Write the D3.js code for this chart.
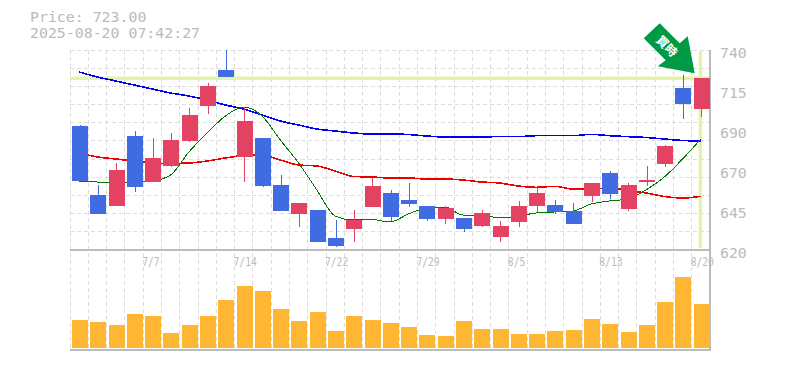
<!DOCTYPE html>
<html><head><meta charset="utf-8">
<script src="https://cdn.jsdelivr.net/npm/d3@7"></script>
<style>html,body{margin:0;padding:0;background:#fff}svg{display:block}
text{font-family:"DejaVu Sans Mono",monospace;fill:#bbb}</style></head><body><div id="c"></div>
<script>
const titleLines = ["Price: 723.00", "2025-08-20 07:42:27"];
const open  = [694.4,653,646.4,688.4,660.8,670.4,685.4,706.4,728,675.8,687.2,659,641.6,644,627.2,632.6,645.8,654.2,650,646.4,638.6,639.2,634.4,627.8,636.8,646.4,647,643.4,652.4,666.2,644.6,660.8,671.6,717.2,704.6];
const close = [661.4,641.6,668,657.8,675.2,686,701,718.4,723.8,697.4,658.4,643.4,648.2,624.8,622.4,638,658.4,639.8,647.6,638.6,645.2,632.6,642.2,634.4,646.4,654.2,642.8,635.6,660.2,653.6,659,662,682.4,707.6,723.2];
const high  = [695,659,672.4,691.4,687.2,690.2,705.2,720,740,705.8,687.2,665,648.2,644,638,644,663.2,656,660.2,646.4,646.4,639.2,644,637.4,649.4,657.8,650,648.2,660.2,667.4,660.2,670.4,683,725,723.2];
const low   = [661.4,641.6,646.4,655,660.8,669.8,684.8,701.6,723.8,660.8,657.8,643.4,633.8,624.8,621.8,624.8,645.8,637.4,645.8,637.4,635.6,630.8,633.8,624.8,633.8,642.8,641.6,635.6,648.8,650.6,643.4,658.4,669.8,698.6,699.8];
const volume = [28,26,23,34,32,15,23,32,48,62,57,39,27,36,17,32,28,25,21,13,12,27,19,19,14,14,17,18,29,24,16,23,46,71,44];
const maLong = [726.8,723.8,721.4,719,716.6,714.2,712.4,710,707,704.6,701,697.4,695,692.6,691.4,690.2,689.6,689.6,689.3,688.4,687.8,687.8,687.8,688.1,688,688.6,688.6,688.6,689.4,688.6,688,687.5,686.6,685.7,685.4];
const maMid  = [678.2,675.8,674.6,673.4,672.2,671.9,672.2,673.4,675.2,676.7,677,674,671,670.4,667.4,664.1,663.8,663.2,663.2,662.6,662.6,662,660.8,660.2,658.4,657.6,658.2,656.6,656.6,657.2,655.7,654.2,652.1,651.2,652.2];
const maShort= [661.4,660.8,660.8,660.8,661.4,665,678.8,690.2,700.4,705.8,700.4,686,672.2,656,640.4,638,638.3,636.8,641.6,645.2,645.8,641,641,639.2,640.4,642.2,642.8,643.4,647.6,649.4,650.6,656,663.8,674.6,686.6];
const xTickIndex = [4,9,14,19,24,29,34];
const xTickLabels = ["7/7","7/14","7/22","7/29","8/5","8/13","8/20"];
const yTickValues = [740,716,692,668,644,620];
const yTickLabels = ["740","715","690","670","645","620"];
const currentPrice = 723;
const signalLabel = "\u8cb7\u6642";

const W=785,H=370,L=70,R=710,T=50,B=250,VB=350;
const svg=d3.select("#c").append("svg").attr("width",W).attr("height",H);
const idx=d3.range(open.length);
const x=d3.scaleBand().domain(idx).range([L,R]).paddingInner(0);
const y=d3.scaleLinear().domain([620,740]).range([B,T]);
const v=d3.scaleLinear().domain([0,100]).range([348,248]);
const RED="#e34262",BLUE="#416be0",AXIS="#bbb",GRID="#ddd",HL="#e2f4a8";

// grid
const g=svg.append("g").attr("stroke",GRID).attr("stroke-dasharray","4,3").attr("shape-rendering","crispEdges");
g.selectAll(".v").data(idx).join("line").attr("x1",d=>x(d)).attr("x2",d=>x(d)).attr("y1",T).attr("y2",VB);
g.selectAll(".h").data(d3.range(0,11)).join("line")
 .attr("x1",L).attr("x2",R).attr("y1",d=>y(740-d*120/11)).attr("y2",d=>y(740-d*120/11));

// current price highlight
const last=idx[idx.length-1], cx=i=>x(i)+x.bandwidth()/2+1;
svg.append("line").attr("x1",L).attr("x2",R).attr("y1",y(currentPrice)).attr("y2",y(currentPrice)).attr("stroke",HL).attr("stroke-width",3.5);
svg.append("line").attr("x1",cx(last)-1.5).attr("x2",cx(last)-1.5).attr("y1",T+1).attr("y2",B-2).attr("stroke",HL).attr("stroke-width",3.5);

// axes
const ax=svg.append("g").attr("stroke",AXIS).attr("stroke-width",2).attr("shape-rendering","crispEdges");
ax.append("line").attr("x1",L).attr("x2",R+1).attr("y1",B).attr("y2",B);
ax.append("line").attr("x1",L).attr("x2",R+1).attr("y1",VB).attr("y2",VB);
ax.append("line").attr("x1",R).attr("x2",R).attr("y1",T).attr("y2",VB+1);

// moving averages
const line=d3.line().curve(d3.curveMonotoneX).x((d,i)=>cx(i)-1).y(d=>y(d));
[[maLong,"#0000ee",1.6],[maMid,"#ee0000",1.6],[maShort,"#007700",1]].forEach(([s,c,w])=>{
 svg.append("path").attr("d",line(s)).attr("fill","none").attr("stroke",c).attr("stroke-width",w).attr("shape-rendering","crispEdges");
});

// candles
const col=i=>close[i]>=open[i]?RED:BLUE;
const cg=svg.append("g").attr("shape-rendering","crispEdges");
cg.selectAll("line").data(idx).join("line").attr("x1",cx).attr("x2",cx)
 .attr("y1",i=>y(high[i])).attr("y2",i=>y(low[i])).attr("stroke",col).attr("stroke-width",1);
cg.selectAll("rect").data(idx).join("rect").attr("x",i=>x(i)+2).attr("width",16)
 .attr("y",i=>y(Math.max(open[i],close[i]))).attr("height",i=>Math.max(1,Math.abs(y(open[i])-y(close[i])))).attr("fill",col);

// volume
svg.append("g").selectAll("rect").data(idx).join("rect").attr("x",i=>x(i)+2).attr("width",16)
 .attr("y",i=>v(volume[i])).attr("height",i=>348-v(volume[i])).attr("fill","#ffb733").attr("shape-rendering","crispEdges");

// signal arrow anchored on the last candle
const ax0=x(last)+3, ay0=y(currentPrice)-5;
const arrow=[[0,0],[-37,-7],[-29,-13],[-51,-35],[-35,-50],[-15,-30],[-7,-37]];
const ag=svg.append("g").attr("transform",`translate(${ax0},${ay0})`);
ag.append("path").attr("d",d3.line()(arrow)+"Z").attr("fill","#009944");
ag.append("text").attr("transform","translate(-28,-27) rotate(45)").attr("text-anchor","middle").attr("dy","0.35em")
 .style("font-family",'"Noto Sans CJK JP"').style("font-weight",700).style("font-size","12px").style("fill","#fff").text(signalLabel);

// text
svg.selectAll(".t").data(titleLines).join("text").attr("x",30).attr("y",(d,i)=>22+i*16).style("font-size","13.5px")
 .attr("textLength",d=>d.length*8.95).attr("lengthAdjust","spacingAndGlyphs").text(d=>d);
svg.selectAll(".yl").data(yTickValues).join("text").attr("x",720).attr("y",d=>y(d)+8).style("font-size","14.8px").text((d,i)=>yTickLabels[i]);
svg.selectAll(".xl").data(xTickIndex).join("text").attr("x",d=>x(d)-1).attr("y",266).style("font-size","13px")
 .attr("textLength",(d,i)=>xTickLabels[i].length*5.8).attr("lengthAdjust","spacingAndGlyphs").text((d,i)=>xTickLabels[i]);
</script></body></html>
